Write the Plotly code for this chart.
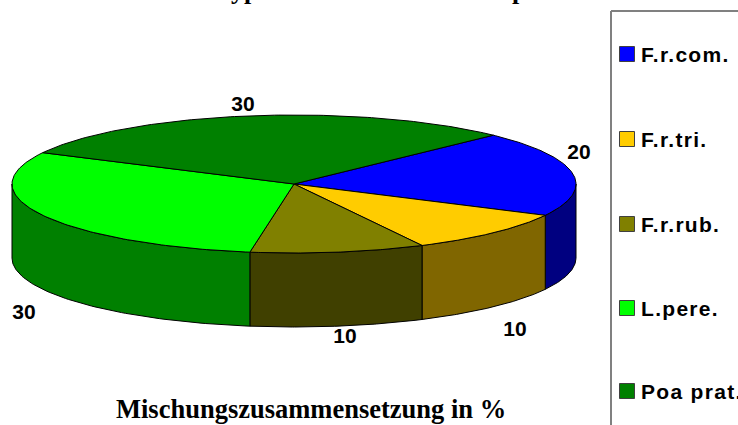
import json
import numpy as np
import plotly.graph_objects as go

categories = ["F.r.com.", "F.r.tri.", "F.r.rub.", "L.pere.", "Poa prat."]
values = [20, 10, 10, 30, 30]
top_colors = ["#0000FF", "#FFCC00", "#808000", "#00FF00", "#008000"]
side_colors = ["#000080", "#806600", "#404000", "#008000", "#004000"]
title_fragments = ["yp", "p"]
xlabel_text = "Mischungszusammensetzung in %"

W, H = 738, 425
CX, CY, RX, RY, DEPTH = 294, 184, 282, 69, 74
START = 45.0
label_pos = [(579, 154), (515, 331), (345, 338), (24, 314), (243, 106)]
legend_x, legend_ys = 627, [54, 139, 224, 308, 391]
title_xs = [244, 519]


def ell(t):
    t = np.radians(t)
    return CX + RX * np.sin(t), CY - RY * np.cos(t)


fig = go.Figure()
angles = START + np.concatenate([[0], np.cumsum(values)]) * 360.0 / sum(values)

# side walls, visible only on the front half (90..270 deg)
for i in range(len(values)):
    a, b = max(angles[i], 90), min(angles[i + 1], 270)
    if b <= a:
        continue
    t = np.linspace(a, b, 80)
    x, y = ell(t)
    fig.add_trace(go.Scatter(
        x=np.r_[x, x[::-1], x[0]], y=np.r_[y, y[::-1] + DEPTH, y[0]],
        mode="lines", fill="toself", fillcolor=side_colors[i],
        line=dict(color="black", width=1), hoverinfo="skip", showlegend=False))

# top faces
for i in range(len(values)):
    t = np.linspace(angles[i], angles[i + 1], 120)
    x, y = ell(t)
    fig.add_trace(go.Scatter(
        x=np.r_[CX, x, CX], y=np.r_[CY, y, CY],
        mode="lines", fill="toself", fillcolor=top_colors[i],
        line=dict(color="black", width=1), name=categories[i],
        hoverinfo="name", showlegend=False))

# data labels
fig.add_trace(go.Scatter(
    x=[p[0] for p in label_pos], y=[p[1] for p in label_pos],
    mode="text", text=[str(v) for v in values],
    textfont=dict(family="Liberation Sans", size=21, color="black", weight="bold"),
    textposition="middle center", hoverinfo="skip", showlegend=False))

# legend
fig.add_trace(go.Scatter(
    x=[legend_x] * len(categories), y=legend_ys, mode="markers",
    marker=dict(symbol="square", size=15, color=top_colors,
                line=dict(color="#404040", width=1)),
    hoverinfo="skip", showlegend=False))
for c, y in zip(categories, legend_ys):
    fig.add_annotation(x=639, y=y, xref="x", yref="y", text=f"<b>{c}</b>",
                       showarrow=False, xanchor="left", yanchor="middle",
                       font=dict(family="Liberation Sans", size=21, color="black"))

fig.add_shape(type="line", x0=611, x1=611, y0=11, y1=H, xref="x", yref="y",
              line=dict(color="#808080", width=2))
fig.add_shape(type="line", x0=611, x1=W, y0=11, y1=11, xref="x", yref="y",
              line=dict(color="#808080", width=2))

# only the descenders of the title fall inside the picture
for frag, tx in zip(title_fragments, title_xs):
    fig.add_annotation(x=tx / W, y=1 + 9 / H, xref="paper", yref="paper",
                       text=f"<b>{frag}</b>", showarrow=False,
                       xanchor="center", yanchor="middle",
                       font=dict(family="Liberation Serif", size=26, color="black"))
fig.add_annotation(x=311, y=409, xref="x", yref="y", text=f"<b>{xlabel_text}</b>",
                   showarrow=False, xanchor="center", yanchor="middle",
                   font=dict(family="Liberation Serif", size=26.5, color="black"))

fig.update_layout(
    width=W, height=H, margin=dict(l=0, r=0, t=0, b=0),
    paper_bgcolor="white", plot_bgcolor="white", showlegend=False,
    xaxis=dict(range=[0, W], visible=False, fixedrange=True),
    yaxis=dict(range=[H, 0], visible=False, fixedrange=True),
)
post = """
document.body.style.margin = '0';
document.body.style.overflow = 'hidden';
var cats = %s;
document.querySelectorAll('.annotation-text').forEach(function (t) {
  if (cats.indexOf(t.textContent) >= 0) {
    var b0 = t.getBBox().x;
    t.style.letterSpacing = '1.3px';
    var b1 = t.getBBox().x;
    t.setAttribute('x', parseFloat(t.getAttribute('x')) + (b0 - b1));
  }
});
""" % json.dumps(categories)
fig.write_html("out.html", config=dict(displayModeBar=False), post_script=post)
